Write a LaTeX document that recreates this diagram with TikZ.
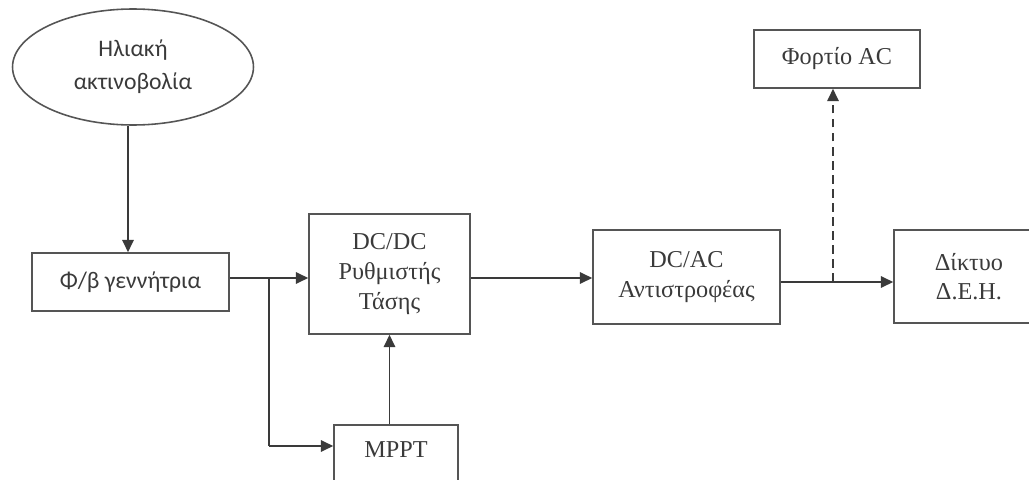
\documentclass[tikz,border=0pt]{standalone}
\usepackage{fontspec}
\setmainfont{Liberation Serif}
\newfontfamily\calfont{Carlito}
\usetikzlibrary{arrows.meta,shapes.geometric}
\definecolor{inkgray}{HTML}{3A3A3A}
\definecolor{boxgray}{HTML}{555555}

\begin{document}
\begin{tikzpicture}[x=0.02cm,y=-0.02cm]
\useasboundingbox (0,0) rectangle (1029,480);
\clip (0,0) rectangle (1029,480);
\begin{scope}[every node/.style={ellipse,draw=boxgray,line width=0.9pt,inner sep=0pt,
              text=inkgray,align=center,font=\calfont\fontsize{13.5}{18.8}\selectfont}]
    \node[minimum width=4.82cm,minimum height=2.32cm] (sun) at (133,67) {Ηλιακή\\ακτινοβολία};
\end{scope}
\begin{scope}[every node/.style={rectangle,draw=boxgray,line width=0.9pt,inner sep=0pt,
              text=inkgray,align=center,font=\calfont\fontsize{13.5}{16.5}\selectfont}]
    \node[minimum width=3.94cm,minimum height=1.16cm] (pv) at (130.5,282) {Φ/β γεννήτρια};
\end{scope}
\begin{scope}[every node/.style={rectangle,draw=boxgray,line width=0.9pt,inner sep=0pt,
              text=inkgray,align=center,font=\fontsize{13.8}{16.9}\selectfont}]
    \node[minimum width=3.22cm,minimum height=2.4cm] (dcdc) at (389.5,274) {DC/DC\\Ρυθμιστής\\Τάσης};
    \node[minimum width=2.48cm,inner ysep=0.34cm,text depth=1cm,anchor=north] (mppt) at (396,424) {MPPT};
    \node[minimum width=3.74cm,minimum height=1.88cm] (dcac) at (686.5,277) {DC/AC\\Αντιστροφέας};
    \node[minimum width=3cm,minimum height=1.86cm] (grid) at (969,276.5) {Δίκτυο\\Δ.Ε.Η.};
    \node[minimum width=3.32cm,minimum height=1.16cm] (load) at (837,59) {Φορτίο AC};
\end{scope}
\coordinate (split) at (269,278);
\coordinate (tap) at (269,446);
\coordinate (fork) at (833,282);
\begin{scope}[>={Triangle[length=7pt,width=6.5pt]},
              every edge/.style={draw=inkgray,line width=0.85pt}]
    \path [->] (sun.south -| 128,0) edge (pv.north -| 128,0);
    \path [->] (pv.east |- split) edge (split -| dcdc.west);
    \path (split) edge (tap);
    \path [->] (tap) edge (tap -| mppt.west);
    \path [->] (mppt.north -| dcdc.south) edge (dcdc.south);
    \path [->] (split -| dcdc.east) edge (split -| dcac.west);
    \path [->] (fork -| dcac.east) edge (fork -| grid.west);
    \path [->] (fork) edge [dash pattern=on 5pt off 3pt] (fork |- load.south);
\end{scope}
\end{tikzpicture}
\end{document}
